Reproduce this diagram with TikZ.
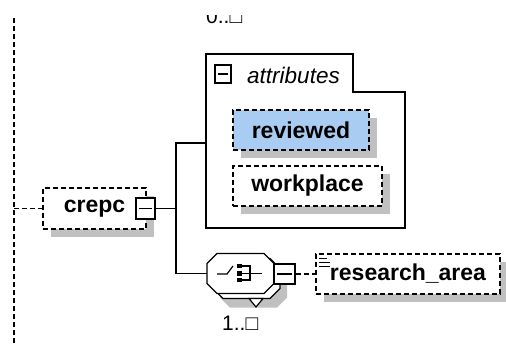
\documentclass[tikz,border=0pt]{standalone}
\usepackage{fontspec}
\setmainfont{Liberation Sans}
\usetikzlibrary{shadows}
\definecolor{blueattr}{RGB}{168,204,242}
\definecolor{shadowgray}{RGB}{192,192,192}
\begin{document}
\begin{tikzpicture}[x=1pt,y=-1pt,
  conn/.style={line width=1.3pt},
  dconn/.style={line width=1.2pt, dash pattern=on 5pt off 3pt},
  elbox/.style={draw, dash pattern=on 5pt off 3pt, line width=1.2pt, fill=white,
    inner sep=0pt, minimum height=40pt, font=\fontsize{23}{27}\selectfont\bfseries,
    drop shadow={shadow xshift=8pt, shadow yshift=-8pt, fill=shadowgray, opacity=1}},
  minusbtn/.style={draw, fill=white, line width=1.2pt, inner sep=0pt,
    minimum width=19pt, minimum height=21pt,
    path picture={\draw[line width=1.2pt] ([xshift=3pt]path picture bounding box.west) -- ([xshift=-3pt]path picture bounding box.east);}},
  pics/octa/.style={code={\path[pic actions] (-33.5,-10) -- (-23.5,-20) -- (23.5,-20) -- (33.5,-10) -- (33.5,10) -- (23.5,20) -- (-23.5,20) -- (-33.5,10) -- cycle;}}
]
\useasboundingbox (0,0) rectangle (506,343);

% top multiplicity (cut off at the top)
\begin{scope}
  \clip (0,15) rectangle (506,343);
  \node[font=\fontsize{21}{24}\selectfont, anchor=base west, inner sep=0pt] (multtop) at (206,23) {0..□};
\end{scope}

% left dashed vertical line
\coordinate (vtop) at (14,18);
\coordinate (vbot) at (14,343);
\coordinate (vj) at (14,208.5);
\draw[dconn] (vtop) -- (vbot);

% crepc element
\node[elbox, minimum width=103pt, minimum height=41pt] (crepc) at (94.5,208.5) {crepc};
\node[minusbtn] (crepcbtn) at (145.5,208.5) {};
\draw[dconn] (vj) -- (crepc.west);

% attributes group
\draw[conn] (206,54) -- (353,54) -- (353,92) -- (405,92) -- (405,228) -- (206,228) -- cycle;
\coordinate (attrin) at (206,143);
\node[minusbtn, minimum width=16pt, minimum height=18pt] (attrbtn) at (223,74) {};
\node[font=\fontsize{22.5}{26}\selectfont\itshape, inner sep=0pt] (attrlbl) at (293.5,75) {attributes};
\node[elbox, fill=blueattr, minimum width=136pt] (rev) at (301,130) {reviewed};
\node[elbox, minimum width=149pt] (wp) at (307.5,186) {workplace};

% junction
\coordinate (j) at (176,208.5);
\coordinate (seqw) at (207,273.5);
\draw[conn] (crepcbtn.east) -- (j);
\draw[conn] (j) |- (attrin);
\draw[conn] (j) |- (seqw);

% sequence compositor
\pic[fill=shadowgray] at (253.5,287.5) {octa};
\pic[draw, fill=white, line width=1.2pt] at (246.5,278.5) {octa};
\draw[line width=1.2pt, fill=white] (249,298.5) -- (263,298.5) -- (256,307) -- cycle;
\pic[draw, fill=white, line width=1.2pt] at (240.5,273.5) {octa};
% sequence symbol
\draw[line width=1.2pt] (217,274) -- (227,274) -- (233,266);
\fill (237,264) rectangle (242,268);
\fill (237,271) rectangle (242,276);
\fill (237,278) rectangle (242,282);
\draw[line width=1.2pt] (242,266) -- (250,266) -- (250,280) -- (242,280);
\draw[line width=1.2pt] (242,273.5) -- (262,273.5);
\node[minusbtn, minimum width=21pt, minimum height=20pt] (seqbtn) at (284.5,274) {};
\node[font=\fontsize{21}{24}\selectfont, anchor=base west, inner sep=0pt] (mult) at (222,330) {1..□};

% research_area element
\node[elbox, minimum width=184pt] (ra) at (408,274) {research\_area};
\draw[dconn] (seqbtn.east) -- (ra.west);
\draw[line width=1pt] (319,258) -- (327,258) (319,262) -- (330,262) (319,266) -- (330,266);
\end{tikzpicture}
\end{document}
